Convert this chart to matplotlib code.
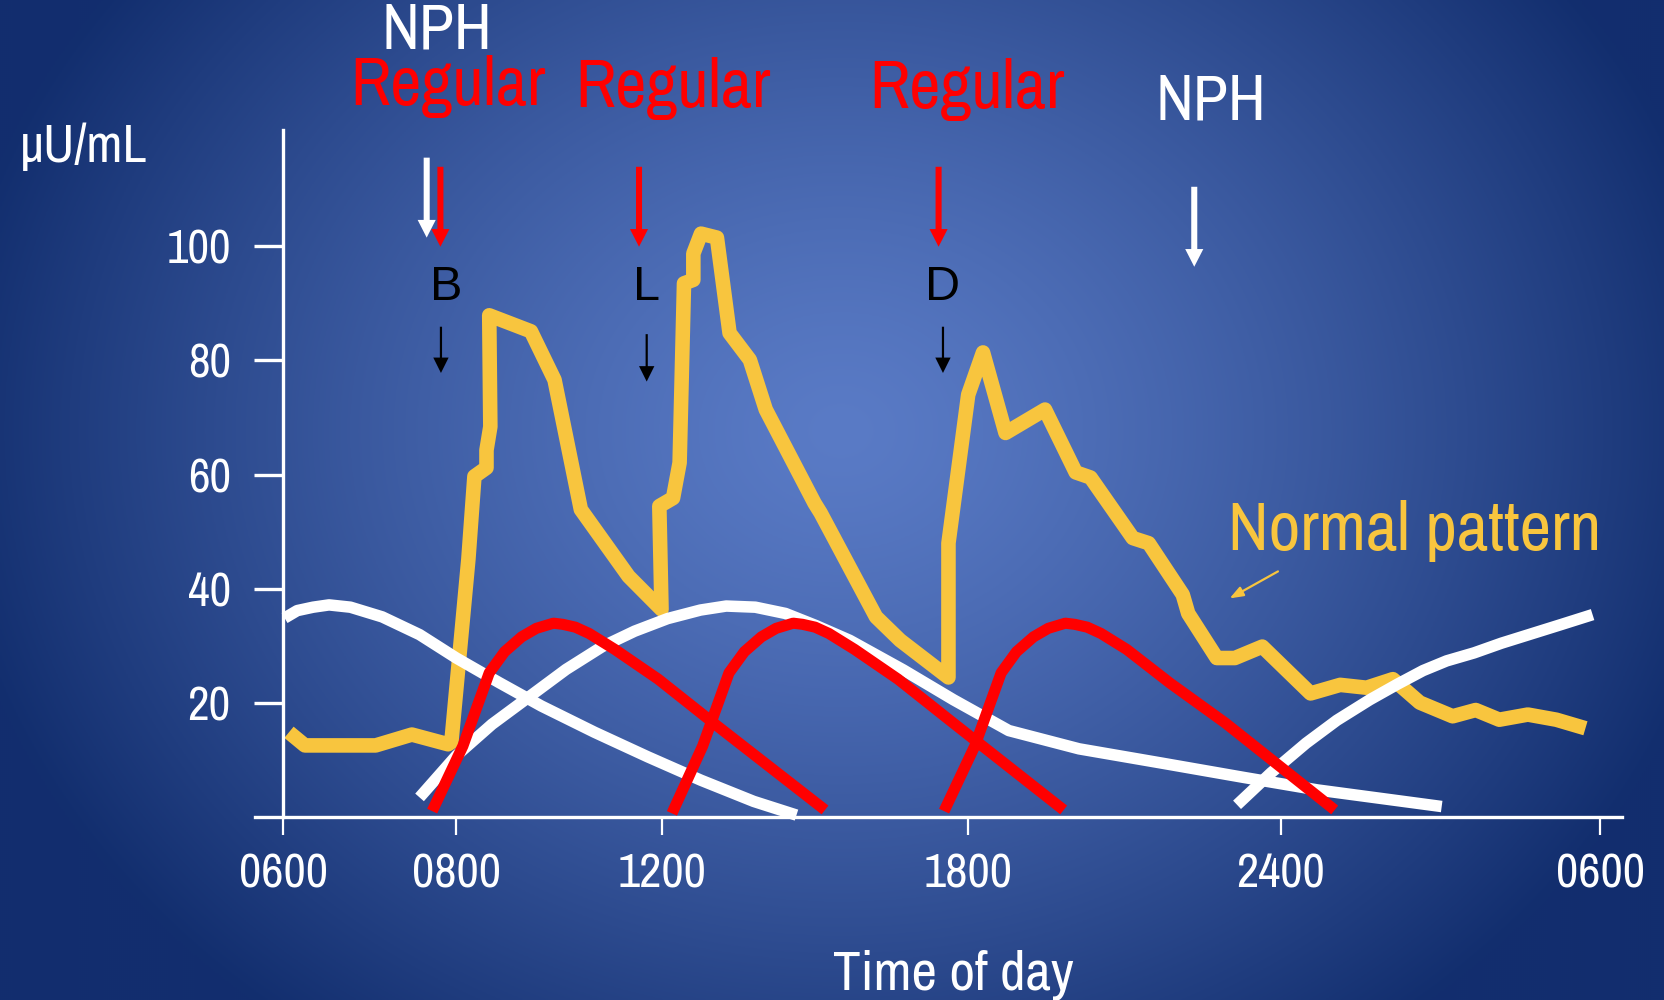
import numpy as np
import matplotlib
matplotlib.use('Agg')
import matplotlib.pyplot as plt

# x is in "chart hours" after 0600 (as spaced on the drawn axis), y in uU/mL
tick_pos = [0, 3.15, 6.89, 12.48, 18.18, 24]
tick_lab = ['0600', '0800', '1200', '1800', '2400', '0600']
y_ticks = [20, 40, 60, 80, 100]

# normal insulin pattern (yellow)
normal_x = [0.10, 0.39, 1.68, 2.34, 3.00, 3.06, 3.37, 3.48, 3.70, 3.70, 3.77, 3.75,
            4.51, 4.94, 5.42, 6.29, 6.89, 6.85, 7.10, 7.22, 7.30, 7.47, 7.47, 7.61,
            7.90, 8.13, 8.50, 8.79, 9.68, 9.79, 10.80, 11.24, 12.12, 12.12, 12.48,
            12.75, 13.16, 13.88, 14.44, 14.71, 15.48, 15.77, 16.39, 16.49, 17.01,
            17.34, 17.84, 18.72, 19.26, 19.74, 20.22, 20.71, 21.31, 21.73, 22.16,
            22.68, 23.20, 23.73]
normal_y = [14.9, 12.6, 12.6, 14.5, 12.8, 13.2, 45.2, 59.7, 61.2, 64.3, 68.4, 87.9,
            85.1, 76.6, 53.9, 42.2, 36.4, 54.5, 55.9, 62.1, 93.5, 94.1, 98.7, 102.2,
            101.5, 84.8, 80.1, 71.4, 55.0, 53.3, 35.1, 31.0, 24.5, 48.0, 74.0,
            81.4, 67.3, 71.4, 60.4, 59.5, 48.9, 48.0, 39.0, 35.7, 27.9,
            27.9, 29.9, 21.7, 23.2, 22.7, 24.2, 20.1, 17.7, 18.8, 17.1,
            18.0, 17.1, 15.6]

# NPH curves (white)
nph1_x = [0.02, 0.25, 0.54, 0.83, 1.22, 1.80, 2.48, 3.15, 3.93, 4.70, 5.67, 6.64, 7.61, 8.57, 9.35]
nph1_y = [34.9, 36.2, 36.8, 37.2, 36.8, 35.1, 32.0, 27.9, 23.6, 19.5, 14.9, 10.6, 6.5, 2.8, 0.4]
nph2_x = [2.48, 3.15, 3.80, 4.49, 5.15, 5.81, 6.40, 7.00, 7.60, 8.07, 8.60, 9.15, 9.70, 10.32,
          11.30, 12.21, 13.22, 14.50, 16.01, 17.50, 18.85, 21.11]
nph2_y = [3.5, 10.8, 16.3, 21.2, 25.9, 29.9, 32.6, 34.8, 36.3, 37.0, 36.8, 35.7, 33.6, 31.0,
          25.8, 20.6, 15.2, 12.0, 9.5, 7.0, 4.8, 1.9]
nph3_x = [17.38, 18.00, 18.64, 19.20, 19.80, 20.30, 20.77, 21.20, 21.70, 22.20, 22.70, 23.30, 23.86]
nph3_y = [2.2, 7.8, 13.0, 17.0, 20.6, 23.3, 25.7, 27.4, 28.8, 30.5, 32.0, 33.8, 35.5]

# Regular insulin curves (red)
reg1_x = [2.71, 3.27, 3.75, 4.03, 4.34, 4.61, 4.92, 5.09, 5.32, 5.57, 6.04, 6.83, 7.84, 9.87]
reg1_y = [1.1, 12.5, 25.3, 29.0, 31.6, 33.1, 34.0, 33.8, 33.3, 32.2, 29.4, 24.2, 16.5, 1.3]
reg2_x = [7.08, 7.64, 8.12, 8.40, 8.71, 8.98, 9.29, 9.46, 9.69, 9.94, 10.41, 11.20, 12.21, 14.22]
reg2_y = [0.7, 12.5, 25.3, 29.0, 31.6, 33.1, 34.0, 33.8, 33.3, 32.2, 29.4, 24.2, 16.5, 1.3]
reg3_x = [12.04, 12.60, 13.08, 13.36, 13.67, 13.94, 14.25, 14.42, 14.65, 14.90, 15.37, 16.16, 17.17, 19.16]
reg3_y = [1.1, 12.5, 25.3, 29.0, 31.6, 33.1, 34.0, 33.8, 33.3, 32.2, 29.4, 23.5, 16.5, 1.3]

YEL = '#f8c53e'
NARROW = ['Archivo Narrow', 'DejaVu Sans']

fig = plt.figure(figsize=(16.65, 10), dpi=100)

# radial blue background
bg = fig.add_axes([0, 0, 1, 1], zorder=-1)
H, W = 500, 833
yy, xx = np.mgrid[0:H, 0:W]
d = np.sqrt(((xx / W * 1665 - 840) / 900.0) ** 2 + ((yy / H * 1000 - 430) / 750.0) ** 2)
t = np.clip(d, 0, 1) ** 1.3
c_in = np.array([90, 123, 198]) / 255.0
c_out = np.array([18, 46, 110]) / 255.0
img = c_in[None, None, :] + (c_out - c_in)[None, None, :] * t[:, :, None]
bg.imshow(img, aspect='auto', extent=[0, 1, 0, 1])
bg.axis('off')

ax = fig.add_axes([0, 0, 1, 1])
ax.patch.set_alpha(0)
ax.set_xlim(-5.167, 25.18)
ax.set_ylim(-31.97, 143.1)

ax.plot(normal_x, normal_y, color=YEL, lw=10.5, solid_joinstyle='round', solid_capstyle='butt', zorder=2)
for xs, ys in [(nph1_x, nph1_y), (nph2_x, nph2_y), (nph3_x, nph3_y)]:
    ax.plot(xs, ys, color='white', lw=8.3, solid_capstyle='butt', solid_joinstyle='round', zorder=3)
for xs, ys in [(reg1_x, reg1_y), (reg2_x, reg2_y), (reg3_x, reg3_y)]:
    ax.plot(xs, ys, color='#ff0000', lw=8.0, solid_capstyle='butt', solid_joinstyle='round', zorder=4)

# axes
for s in ['top', 'right']:
    ax.spines[s].set_visible(False)
ax.spines['left'].set_position(('data', 0))
ax.spines['bottom'].set_position(('data', 0))
ax.spines['left'].set_bounds(0, 120.4)
ax.spines['bottom'].set_bounds(-0.52, 24.39)
for s in ['left', 'bottom']:
    ax.spines[s].set_color('white')
    ax.spines[s].set_linewidth(2.4)
ax.set_yticks(y_ticks)
ax.set_xticks(tick_pos)
ax.set_xticklabels(tick_lab)
ax.tick_params(axis='y', direction='out', length=21, width=2.4, colors='white', pad=17, labelsize=34)
ax.tick_params(axis='x', direction='out', length=13, width=1.6, colors='white', pad=12, labelsize=35)
for lab in ax.get_xticklabels() + ax.get_yticklabels():
    lab.set_family(NARROW)

# labels
ax.text(-3.65, 114.8, 'μU/mL', color='white', fontsize=38, family=NARROW, ha='center', va='baseline')
ax.text(12.21, -30.1, 'Time of day', color='white', fontsize=40, family=NARROW, ha='center', va='baseline')
ax.text(2.80, 134.6, 'NPH', color='white', fontsize=46, family=NARROW, ha='center', va='baseline')
ax.text(16.90, 122.1, 'NPH', color='white', fontsize=46, family=NARROW, ha='center', va='baseline')
for xr, yr in [(2.99, 124.7), (7.10, 124.4), (12.45, 124.2)]:
    ax.text(xr, yr, 'Regular', color='#ff0000', fontsize=49, family=NARROW, ha='center', va='baseline')
ax.text(20.62, 46.8, 'Normal pattern', color=YEL, fontsize=49.5, family=NARROW, ha='center', va='baseline')
for xm, m in [(2.96, 'B'), (6.62, 'L'), (12.02, 'D')]:
    ax.text(xm, 92.7, m, color='black', fontsize=35, family=['Liberation Sans', 'DejaVu Sans'],
            ha='center', va='center')

# injection arrows
def down_arrow(x, top, tip, col, w, hw, hl):
    ax.arrow(x, top, 0, tip - top, width=w, head_width=hw, head_length=hl,
             length_includes_head=True, color=col, lw=0, zorder=5)

down_arrow(2.61, 115.5, 101.5, 'white', 0.11, 0.33, 3.1)
down_arrow(16.60, 110.4, 96.4, 'white', 0.11, 0.33, 3.1)
for xa in [2.86, 6.48, 11.94]:
    down_arrow(xa, 113.9, 99.9, '#ff0000', 0.11, 0.33, 3.1)
for xa, top, tip in [(2.87, 85.9, 77.8), (6.62, 84.6, 76.3), (12.02, 85.9, 77.8)]:
    down_arrow(xa, top, tip, 'black', 0.04, 0.28, 2.7)
ax.annotate('', xy=(17.20, 38.1), xytext=(18.17, 43.3),
            arrowprops=dict(arrowstyle='-|>,head_width=0.3,head_length=0.8', color=YEL, lw=1.6))

plt.savefig('out.png', dpi=100)
